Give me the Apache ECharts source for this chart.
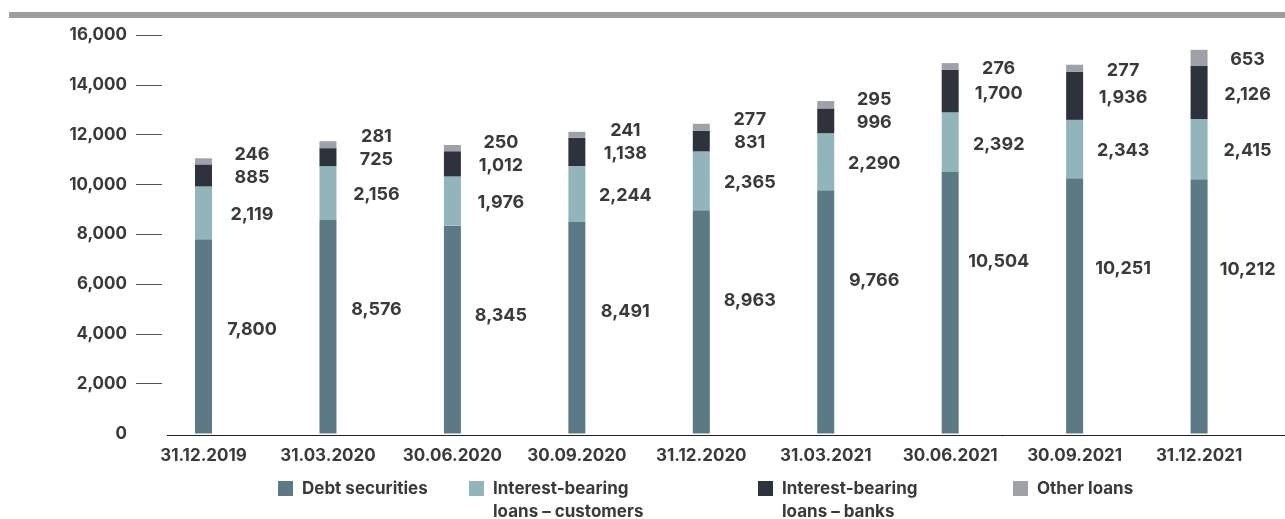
<!DOCTYPE html>
<html>
<head>
<meta charset="utf-8">
<title>Debt by funding source</title>
<script src="https://cdn.jsdelivr.net/npm/echarts@6/dist/echarts.min.js"></script>
<style>
  html, body { margin: 0; padding: 0; background: #ffffff; }
  #chart { width: 1285px; height: 519px; }
</style>
</head>
<body>
<div id="chart"></div>
<script>
// Reporting dates
const categories = ['31.12.2019', '31.03.2020', '30.06.2020', '30.09.2020', '31.12.2020',
                    '31.03.2021', '30.06.2021', '30.09.2021', '31.12.2021'];

// Stacked components
const debtSecurities = [7800, 8576, 8345, 8491, 8963, 9766, 10504, 10251, 10212];
const loansCustomers = [2119, 2156, 1976, 2244, 2365, 2290, 2392, 2343, 2415];
const loansBanks     = [885, 725, 1012, 1138, 831, 996, 1700, 1936, 2126];
const otherLoans     = [246, 281, 250, 241, 277, 295, 276, 277, 653];

// Value axis ticks
const yTicks = [0, 2000, 4000, 6000, 8000, 10000, 12000, 14000, 16000];

const seriesNames = ['Debt securities', 'Interest-bearing\nloans – customers',
                     'Interest-bearing\nloans – banks', 'Other loans'];
const seriesColors = ['#5b7a85', '#92b4bb', '#2d323c', '#9ea1a8'];
const seriesData = [debtSecurities, loansCustomers, loansBanks, otherLoans];

const FONT = 'Inter, "Open Sans", sans-serif';
const TEXT_COLOR = '#3a3a3a';
const MIN_GAP = 23;        // minimum vertical spacing between labels of one column
const DEBT_LABEL_DROP = 88; // debt label sits this far below the top of its segment

const chart = echarts.init(document.getElementById('chart'), null, { renderer: 'canvas' });

// Vertical label positions for one column: segment centres, nudged apart upwards.
function columnLabelYs(i) {
  const yPix = v => chart.convertToPixel({ yAxisIndex: 0 }, v);
  let cum = 0;
  const ys = seriesData.map((arr, k) => {
    const lo = yPix(cum);
    const hi = yPix(cum + arr[i]);
    cum += arr[i];
    return k === 0 ? hi + DEBT_LABEL_DROP : (lo + hi) / 2;
  });
  for (let k = 1; k < ys.length; k++) {
    if (ys[k - 1] - ys[k] < MIN_GAP) ys[k] = ys[k - 1] - MIN_GAP;
  }
  return ys;
}

// Legend icon: square aligned with the first text line; bbox sets the text offset.
function legendIcon(h) {
  return 'path://M0,4L15,4L15,19L0,19Z M0,0L0.01,0L0,0.01Z M18.99,' + h + 'L19,' + h + 'L19,' + (h - 0.01) + 'Z';
}

const legendPositions = [278, 469, 758, 1013];

const option = {
  animation: false,
  backgroundColor: '#ffffff',
  grid: { left: 141.3, right: 23.7, top: 35, bottom: 85.5, containLabel: false },
  xAxis: {
    type: 'category',
    data: categories,
    axisLine: { show: false },
    axisTick: { show: false },
    axisLabel: {
      interval: 0,
      margin: 14,
      color: TEXT_COLOR,
      fontFamily: FONT,
      fontSize: 17,
      fontWeight: 'bold'
    }
  },
  yAxis: {
    type: 'value',
    min: yTicks[0],
    max: yTicks[yTicks.length - 1],
    interval: yTicks[1] - yTicks[0],
    offset: -20.7,
    axisLine: { show: false },
    splitLine: { show: false },
    axisTick: {
      show: true,
      length: 26,
      customValues: yTicks.filter(v => v !== 0),
      lineStyle: { color: '#555555', width: 1 }
    },
    axisLabel: {
      margin: 35,
      color: TEXT_COLOR,
      fontFamily: FONT,
      fontSize: 17,
      fontWeight: 'bold',
      customValues: yTicks,
      formatter: v => v.toLocaleString('en-US')
    }
  },
  legend: seriesNames.map((name, k) => {
    const twoLine = name.indexOf('\n') >= 0;
    const h = twoLine ? 46 : 23;
    return {
      data: [name],
      left: legendPositions[k],
      top: 477,
      padding: 0,
      itemWidth: 19,
      itemHeight: h,
      icon: legendIcon(h),
      textStyle: {
        color: TEXT_COLOR,
        fontFamily: FONT,
        fontSize: 17,
        fontWeight: 'bold',
        lineHeight: 23
      }
    };
  }),
  graphic: [
    {
      type: 'rect',
      shape: { x: 9, y: 12, width: 1276, height: 6 },
      style: { fill: '#9d9d9d' },
      silent: true
    },
    {
      type: 'line',
      shape: { x1: 167, y1: 435.5, x2: 1285, y2: 435.5 },
      style: { stroke: '#1e1e1e', lineWidth: 1 },
      silent: true
    }
  ],
  series: seriesNames.map((name, k) => ({
    name: name,
    type: 'bar',
    stack: 'total',
    barWidth: 17,
    data: seriesData[k],
    itemStyle: { color: seriesColors[k] },
    label: {
      show: true,
      position: 'right',
      color: TEXT_COLOR,
      fontFamily: FONT,
      fontSize: 18,
      fontWeight: 'bold',
      formatter: p => p.value.toLocaleString('en-US')
    },
    labelLayout: params => {
      const ys = columnLabelYs(params.dataIndex);
      return {
        x: params.rect.x + params.rect.width + 40,
        y: ys[params.seriesIndex] + 2,
        align: 'center',
        verticalAlign: 'middle'
      };
    }
  }))
};

chart.setOption(option);
</script>
</body>
</html>
